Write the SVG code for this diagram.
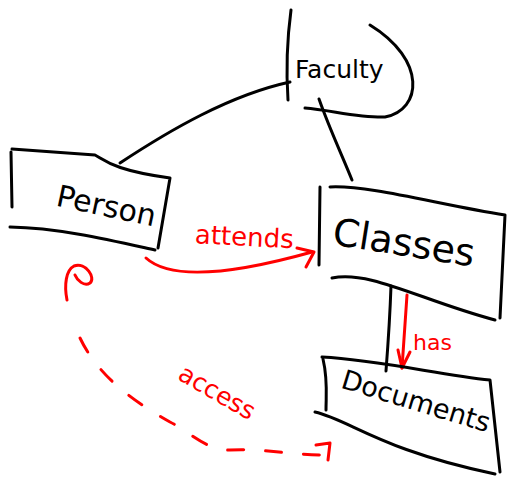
<svg xmlns="http://www.w3.org/2000/svg" width="510" height="481" viewBox="0 0 510 481">
<style>
.ink{fill:none;stroke:#000;stroke-width:3;stroke-linecap:round;stroke-linejoin:round}
.red{fill:none;stroke:#f00;stroke-width:3;stroke-linecap:round;stroke-linejoin:round}
.dash{stroke-dasharray:16 22}
.lbl{font-family:"DejaVu Sans","Liberation Sans",sans-serif;fill:#000}
.rlbl{font-family:"DejaVu Sans","Liberation Sans",sans-serif;fill:#f00}
</style>
<rect width="510" height="481" fill="#fff"/>
<g id="connectors">
<path class="ink" d="M120,163 C170,130 230,95 290,82"/>
<path class="ink" d="M319,99 C330,130 342,155 352,180"/>
<path class="ink" d="M391,286 C390,315 388,345 386,371"/>
<path class="red" d="M146,258 C170,280 230,275 312,252"/>
<path class="red" d="M297,248 L314,252 L306,267"/>
<path class="red" d="M407,295 L402,368"/>
<path class="red" d="M398,350 L402,368 L410,352"/>
<path class="red" d="M67,300 C64,285 66,270 74,266 C86,262 96,278 90,283 C84,287 77,280 75,275"/>
<path class="red dash" d="M80,338 C100,380 140,405 170,422 C190,432 205,450 230,450 C260,448 290,455 326,455"/>
<path class="red" d="M316,445 L330,443 L328,460"/>
<text class="rlbl" x="195" y="245" font-size="26" transform="rotate(3 230 235)">attends</text>
<text class="rlbl" x="413" y="350" font-size="22">has</text>
<text class="rlbl" x="172" y="395" font-size="25" transform="rotate(30 205 395)">access</text>
</g>
<g id="faculty">
<path class="ink" d="M291,10 C287,40 286,70 288,100"/>
<path class="ink" d="M305,108 C330,110 360,118 385,117 C422,110 427,60 370,25"/>
<text class="lbl" x="295" y="78" font-size="25">Faculty</text>
</g>
<g id="person">
<path class="ink" d="M11,152 L12,207"/>
<path class="ink" d="M12,149 L95,155 C105,160 112,170 170,178 L158,248"/>
<path class="ink" d="M10,227 C60,228 110,240 155,250"/>
<text class="lbl" x="55" y="215" font-size="30" transform="rotate(12 100 210)">Person</text>
</g>
<g id="classes">
<path class="ink" d="M320,187 L319,265"/>
<path class="ink" d="M330,187 C370,185 440,205 505,215 L500,318"/>
<path class="ink" d="M332,278 C370,270 420,300 495,320"/>
<text class="lbl" x="332" y="255" font-size="38" transform="rotate(9 400 245)">Classes</text>
</g>
<g id="documents">
<path class="ink" d="M322,357 C380,360 440,375 490,380 L500,472"/>
<path class="ink" d="M323,359 C328,380 326,395 326,410"/>
<path class="ink" d="M315,412 C350,420 380,450 495,474"/>
<text class="lbl" x="333" y="408" font-size="27" transform="rotate(17 405 420)">Documents</text>
</g>
</svg>
